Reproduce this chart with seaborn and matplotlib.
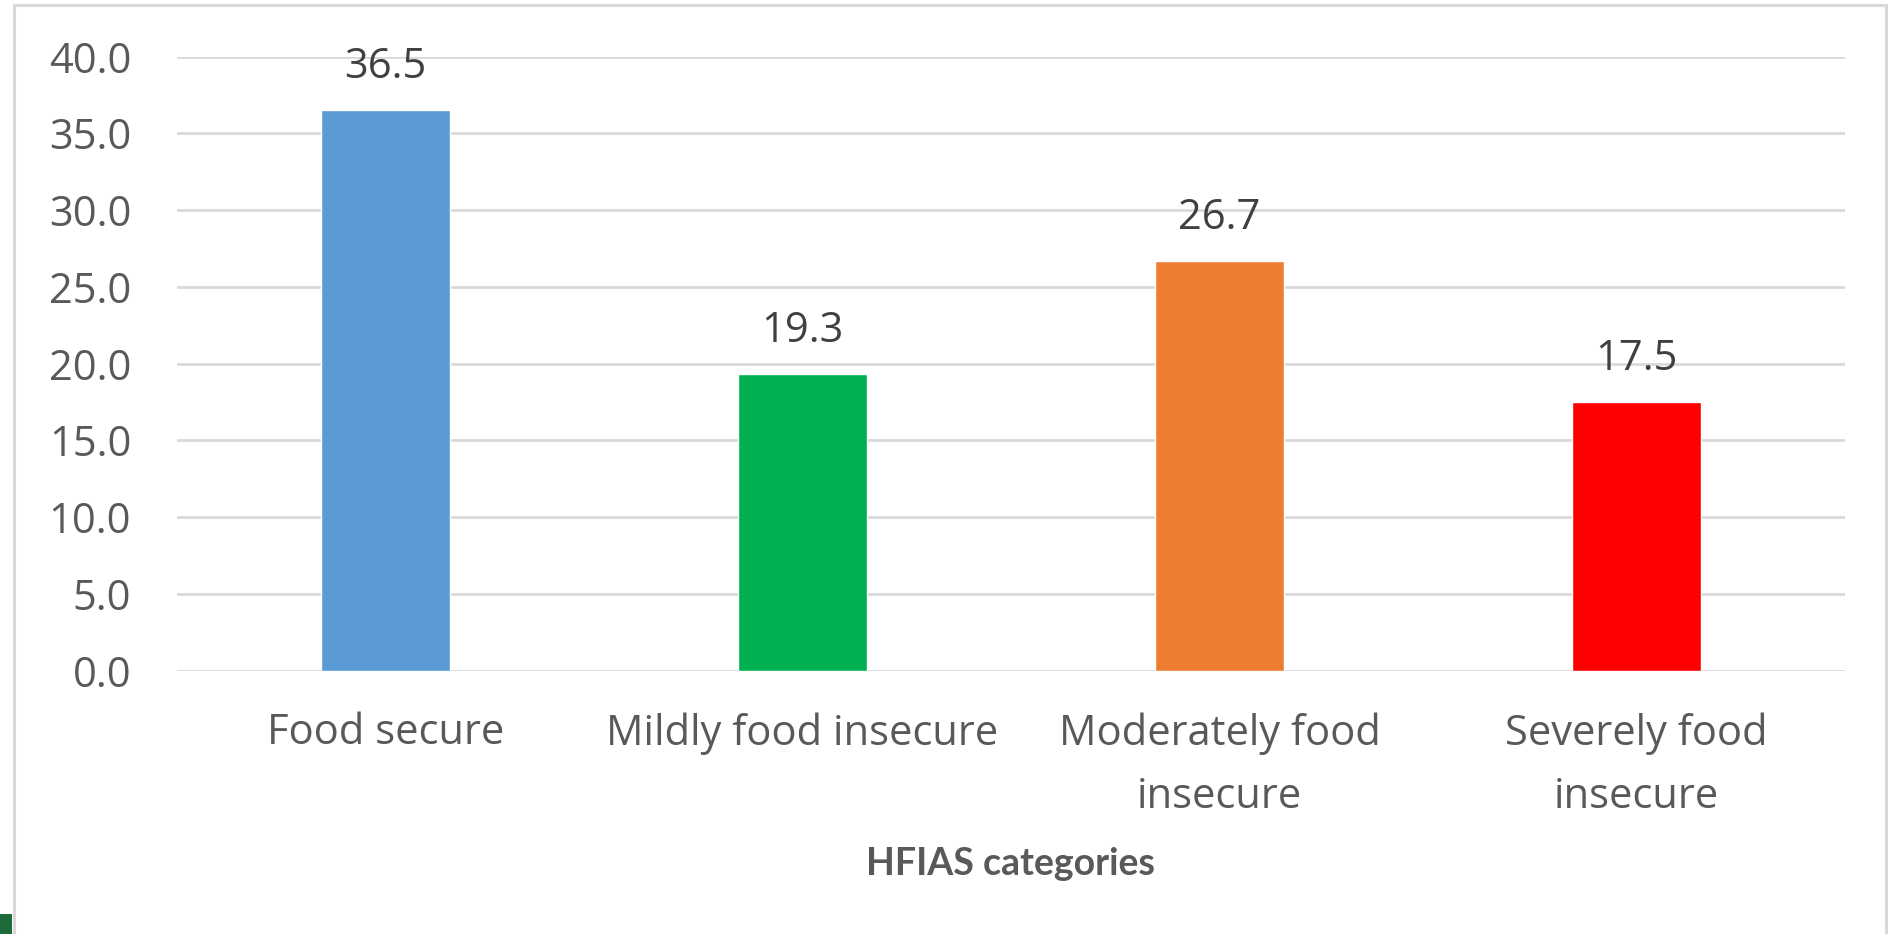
import matplotlib
matplotlib.use("Agg")
import matplotlib.pyplot as plt
import matplotlib.patches as mpatches
import seaborn as sns
import pandas as pd

# HFIAS category shares (%)
categories = ["Food secure", "Mildly food insecure", "Moderately food\ninsecure", "Severely food\ninsecure"]
values = [36.5, 19.3, 26.7, 17.5]
bar_colors = ["#5B9BD5", "#00B050", "#ED7D31", "#FF0000"]
y_ticks = [0, 5, 10, 15, 20, 25, 30, 35, 40]
x_title = "HFIAS categories"

df = pd.DataFrame({"category": categories, "value": values})

sns.set_theme(style="white")
plt.rcParams["font.family"] = ["Open Sans", "DejaVu Sans"]

W, H = 1888, 934
fig = plt.figure(figsize=(W / 100, H / 100), dpi=100)
fig.patch.set_facecolor("white")

# outer chart frame
fig.add_artist(mpatches.Rectangle((14 / W, -0.05), (1886 - 14) / W, 1 - 5 / H + 0.05,
                                  transform=fig.transFigure, fill=False,
                                  edgecolor="#D9D9D9", linewidth=2.2))
fig.add_artist(mpatches.Rectangle((0, 0), 12 / W, 20 / H, transform=fig.transFigure,
                                  facecolor="#1E6B3A", edgecolor="none"))

left, right, top, bottom = 177, 1845, 56.6, 670.7
ax = fig.add_axes([left / W, 1 - bottom / H, (right - left) / W, (bottom - top) / H])

sns.barplot(data=df, x="category", y="value", hue="category", palette=bar_colors,
            order=categories, hue_order=categories, width=0.31, legend=False,
            saturation=1, ax=ax, zorder=3)

ax.set_ylim(0, 40)
ax.set_xlim(-0.5, 3.5)
ax.set_yticks(y_ticks)
ax.set_yticklabels([f"{v:.1f}" for v in y_ticks])
ax.yaxis.grid(True, color="#D9D9D9", linewidth=2.0, zorder=0)
ax.set_axisbelow(True)
for s in ax.spines.values():
    s.set_visible(False)

ax.tick_params(axis="both", length=0, labelsize=30, labelcolor="#595959")
ax.tick_params(axis="y", pad=33)
ax.tick_params(axis="x", pad=30)
for lbl in ax.get_xticklabels():
    lbl.set_linespacing(1.65)

for cont in ax.containers:
    ax.bar_label(cont, fmt="%.1f", padding=16, fontsize=30, color="#404040")

ax.set_ylabel("")
ax.set_xlabel(x_title, fontsize=27, fontweight="bold", color="#595959",
              family=["Lato", "DejaVu Sans"])
ax.xaxis.label.set_va("baseline")
ax.xaxis.set_label_coords(0.5, (bottom - 875) / (bottom - top))

fig.savefig("out.png", dpi=100)
